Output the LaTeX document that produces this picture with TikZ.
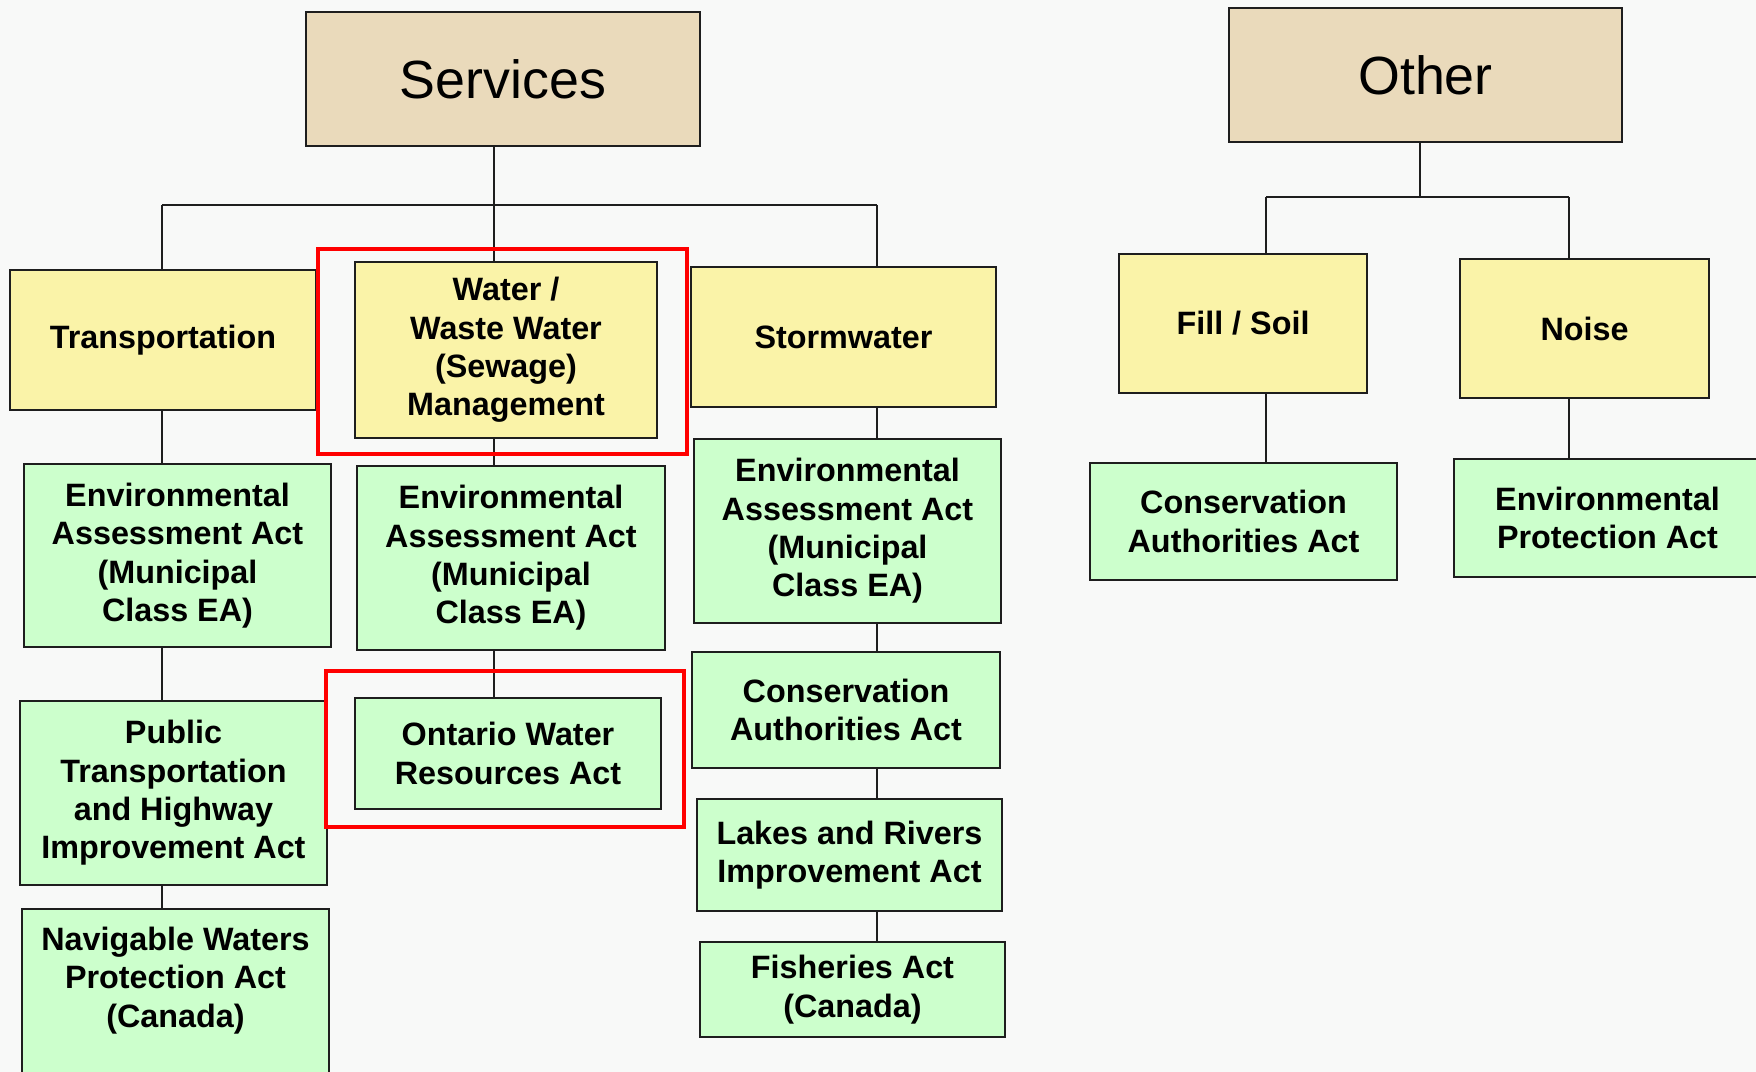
\documentclass[tikz,border=0pt]{standalone}
\usepackage{fontspec}
\setmainfont{Liberation Sans}
\usetikzlibrary{calc}
\definecolor{pagebg}{RGB}{248,249,248}
\definecolor{boxline}{RGB}{30,30,30}
\definecolor{headtan}{RGB}{234,218,187}
\definecolor{topicyellow}{RGB}{250,243,168}
\definecolor{actgreen}{RGB}{204,255,204}

\begin{document}
\begin{tikzpicture}[every node/.style={draw=boxline,line width=0.7pt,inner sep=0pt,outer sep=0pt,align=center}]

% page with its margins
\useasboundingbox (0,0) rectangle (17.56,-10.72);
\fill[pagebg] (0,0) rectangle (17.56,-10.72);
\clip (0,0) rectangle (17.56,-10.72);

\tikzstyle{head}=[fill=headtan,font=\fontsize{15.3}{18}\selectfont]
\tikzstyle{topic}=[fill=topicyellow,font=\fontsize{9.2}{10.9}\selectfont\bfseries]
\tikzstyle{act}=[fill=actgreen,font=\fontsize{9.2}{10.9}\selectfont\bfseries,minimum width=3.07cm]
\tikzstyle{link}=[line width=0.6pt,draw=boxline]
\tikzstyle{highlight}=[line width=1.4pt,draw=red]

% heads
\node (services) [head,minimum width=3.94cm,minimum height=1.34cm] at (5.03,-0.79) {Services};
\node (other) [head,minimum width=3.93cm,minimum height=1.34cm] at (14.255,-0.75) {Other};

% topics
\node (trans) [topic,minimum width=3.06cm,minimum height=1.40cm] at (1.63,-3.40) {Transportation};
\node (water) [topic,minimum width=3.02cm,minimum height=1.76cm] at (5.06,-3.50) {Water /\\Waste Water\\(Sewage)\\Management};
\node (storm) [topic,minimum width=3.05cm,minimum height=1.40cm] at (8.435,-3.37) {Stormwater};
\node (fill) [topic,minimum width=2.48cm,minimum height=1.39cm] at (12.43,-3.235) {Fill / Soil};
\node (noise) [topic,minimum width=2.49cm,minimum height=1.39cm] at (15.845,-3.285) {Noise};

% acts
\node (eaaTrans) [act,minimum height=1.83cm] at (1.775,-5.555) {Environmental\\Assessment Act\\(Municipal\\Class EA)};
\node (publicHwy) [act,minimum height=1.84cm] at (1.735,-7.93) {Public\\Transportation\\and Highway\\Improvement Act};
\node (navigable) [act,anchor=north,inner ysep=0.18cm,text depth=1.6cm] at (1.755,-9.09) {Navigable Waters\\Protection Act\\(Canada)};
\node (eaaWater) [act,minimum width=3.08cm,minimum height=1.84cm] at (5.11,-5.58) {Environmental\\Assessment Act\\(Municipal\\Class EA)};
\node (ontarioWater) [act,minimum width=3.06cm,minimum height=1.11cm] at (5.08,-7.535) {Ontario Water\\Resources Act};
\node (eaaStorm) [act,minimum height=1.84cm] at (8.475,-5.31) {Environmental\\Assessment Act\\(Municipal\\Class EA)};
\node (consStorm) [act,minimum width=3.08cm,minimum height=1.16cm] at (8.46,-7.10) {Conservation\\Authorities Act};
\node (lakes) [act,minimum width=3.05cm,minimum height=1.12cm] at (8.495,-8.55) {Lakes and Rivers\\Improvement Act};
\node (fisheries) [act,minimum width=3.05cm,minimum height=0.95cm] at (8.525,-9.895) {Fisheries Act\\(Canada)};
\node (consFill) [act,minimum height=1.17cm] at (12.435,-5.215) {Conservation\\Authorities Act};
\node (envProt) [act,minimum height=1.18cm] at (16.075,-5.18) {Environmental\\Protection Act};

% bus lines
\coordinate (servicesBus) at (4.94,-2.05);
\coordinate (transBus) at (1.62,-2.05);
\coordinate (stormBus) at (8.77,-2.05);
\coordinate (otherBus) at (14.20,-1.97);
\coordinate (fillBus) at (12.66,-1.97);
\coordinate (noiseBus) at (15.69,-1.97);

\draw[link] (services.south -| servicesBus) -- (water.north -| servicesBus);
\draw[link] (transBus) -- (stormBus);
\draw[link] (transBus) -- (trans.north -| transBus);
\draw[link] (stormBus) -- (storm.north -| stormBus);
\draw[link] (other.south -| otherBus) -- (otherBus);
\draw[link] (fillBus) -- (noiseBus);
\draw[link] (fillBus) -- (fill.north -| fillBus);
\draw[link] (noiseBus) -- (noise.north -| noiseBus);

% columns
\foreach \a/\b/\c in {trans/eaaTrans/transBus, eaaTrans/publicHwy/transBus, publicHwy/navigable/transBus,
                      water/eaaWater/servicesBus, eaaWater/ontarioWater/servicesBus,
                      storm/eaaStorm/stormBus, eaaStorm/consStorm/stormBus, consStorm/lakes/stormBus, lakes/fisheries/stormBus,
                      fill/consFill/fillBus, noise/envProt/noiseBus} {
    \draw[link] (\a.south -| \c) -- (\b.north -| \c);
}

% red frames
\draw[highlight] ($(water.north west)+(-0.37,0.13)$) rectangle ($(water.south east)+(0.30,-0.16)$);
\draw[highlight] ($(ontarioWater.north west)+(-0.29,0.27)$) rectangle ($(ontarioWater.south east)+(0.23,-0.18)$);
\end{tikzpicture}
\end{document}
